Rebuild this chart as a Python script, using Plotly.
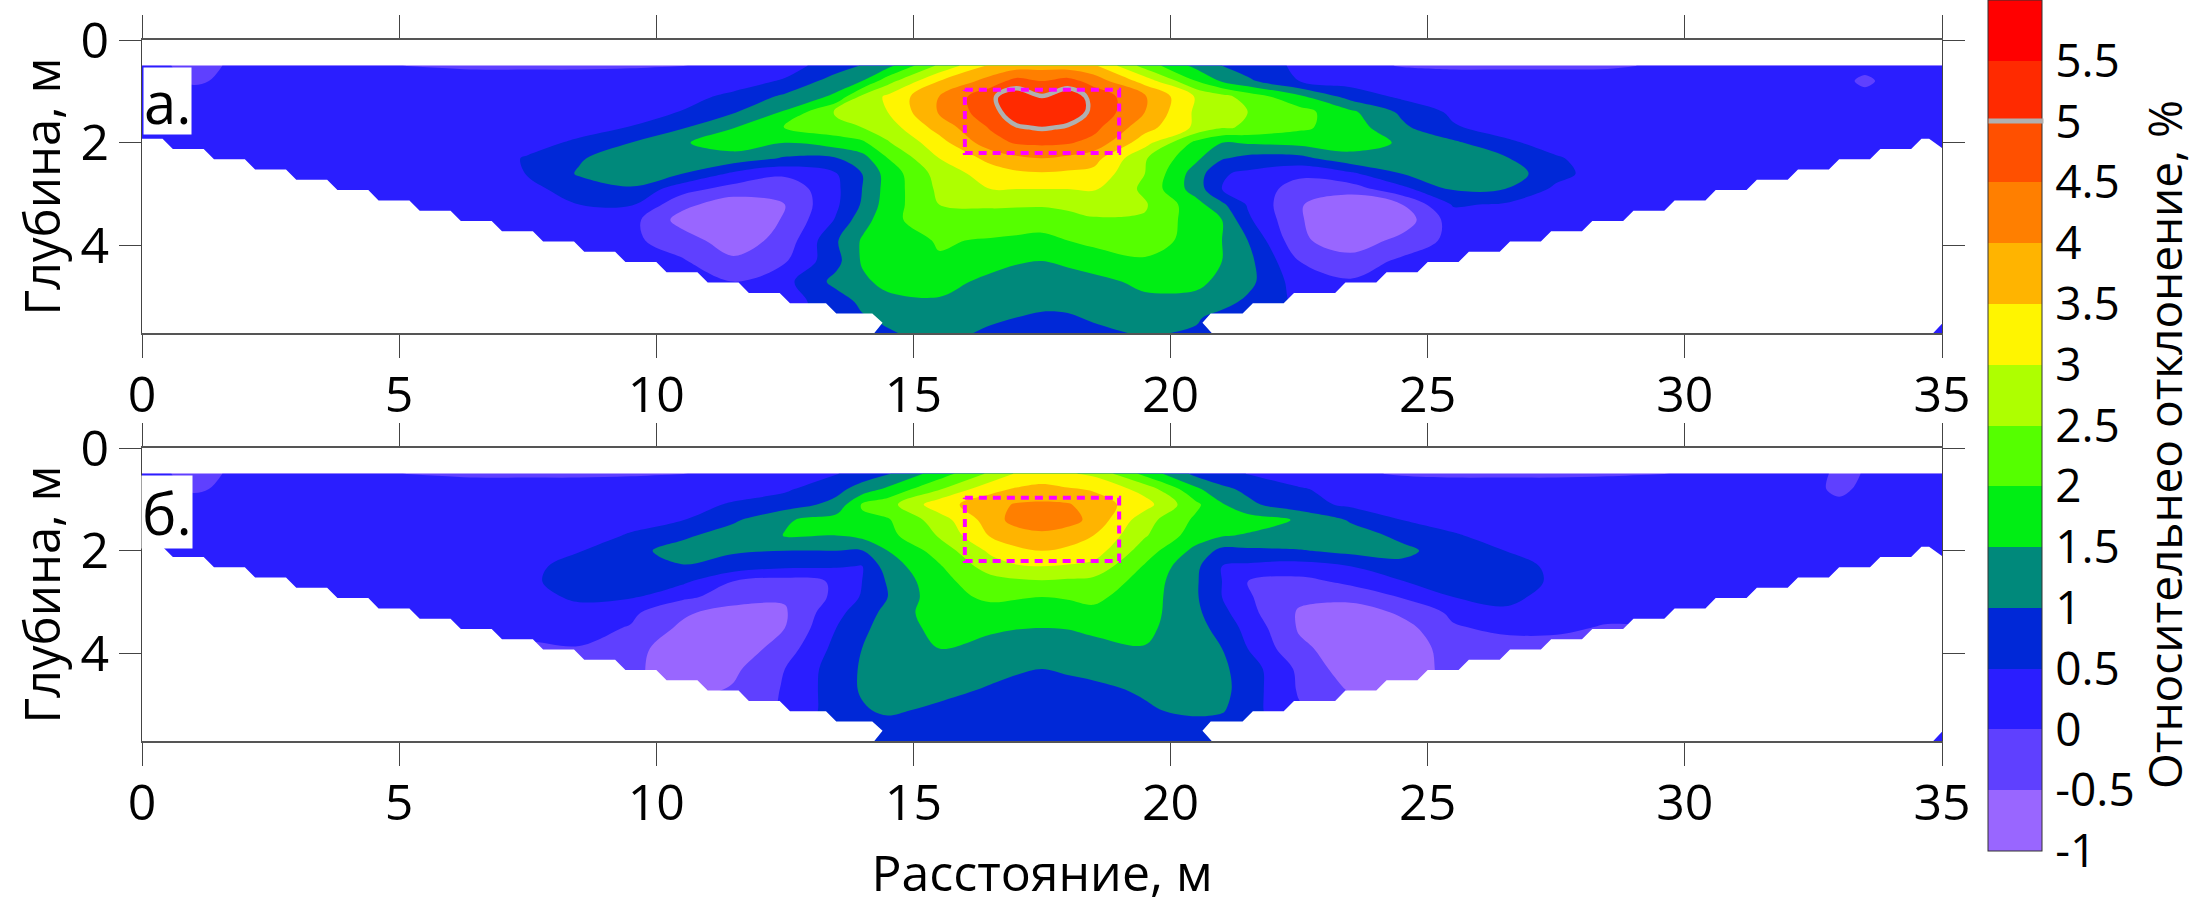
import plotly.graph_objects as go

N = None
W, H = 2194, 914
FONT = "Open Sans"

# distance along the profile, m (columns) and depth, m (rows)
distance = [0, 1, 2.5, 4.5, 6.5, 7.5, 8.5, 9.5, 10.5, 11.5, 12.5, 13.5, 14, 14.5, 15.5, 16.5, 17, 17.5, 18, 18.5,
            19.5, 20.5, 21, 21.5, 22.5, 23.5, 24.5, 25.5, 26.5, 27.5, 28.5, 30.5, 32.5, 33, 33.5, 34, 35]
depth = [0.5, 0.8, 1.1, 1.4, 1.7, 2.0, 2.3, 2.6, 2.9, 3.2, 3.5, 3.9, 4.3, 4.7, 5.1, 5.4, 5.7]

# relative deviation, %, panel a
dev_a = [
    [.2, -.15, .25, .02, -.05, -.05, -.05, -.04, -.02, .15, .3, .75, 1.03, 1.35, 2.6, 3.6, 3.75, 3.8, 3.75, 3.6, 2.3, 1.35, 1.0, .75, .42, .1, -.02, -.05, -.05, -.05, -.04, .1, .15, .15, .15, .2, .2],
    [.2, -.05, .2, .15, .15, .15, .15, .2, .25, .3, .55, 1.25, 1.5, 2.3, 3.5, 4.2, 4.7, 4.5, 4.7, 4.3, 3.3, 2.0, 1.45, 1.1, .5, .3, .2, .15, .15, .15, .15, .15, .15, .15, -.1, .15, .2],
    [.2, .15, .2, .2, .2, .2, .2, .25, .35, .6, 1.1, 1.6, 2.6, 3.1, 4.0, 4.9, 5.35, 5.02, 5.35, 4.85, 4.05, 2.95, 2.65, 2.3, 1.6, .8, .4, .2, .2, .2, .2, .2, .2, .2, .15, .2, .2],
    [.2, .2, .2, .2, .2, .2, .2, .25, .52, .95, 1.55, 2.6, 2.8, 3.0, 4.05, 4.8, 5.3, 5.4, 5.3, 4.9, 4.0, 2.9, 2.6, 2.5, 2.2, 1.6, .9, .4, .2, .15, .2, .2, .2, .2, .2, .2, .2],
    [.2, .2, .2, .2, .2, .2, .3, .52, .95, 1.48, 2.05, 2.3, 2.5, 2.75, 3.7, 4.55, 4.95, 5.05, 4.95, 4.65, 3.7, 2.9, 2.55, 2.45, 2.1, 1.75, 1.1, .55, .3, .2, .2, .2, .2, .2, .2, .2, .2],
    [.2, .2, .2, .2, .2, .3, .6, 1.0, 1.45, 1.75, 1.5, 1.75, 1.9, 2.45, 3.3, 4.3, 4.55, 4.6, 4.55, 4.35, 3.2, 1.85, 1.5, 1.55, 1.65, 1.7, 1.45, 1.1, .6, .3, .2, .2, .2, .2, .2, .2, .2],
    [N, .2, .2, .2, .2, .55, .95, 1.3, 1.45, 1.3, .95, .98, 1.3, 2.0, 3.0, 3.65, 3.9, 4.0, 3.9, 3.7, 2.55, 1.6, 1.05, .85, .85, 1.35, 1.4, 1.4, 1.05, .55, .25, .2, .2, .2, .2, .2, .2],
    [N, N, .2, .2, .25, .52, 1.05, 1.25, 1.0, .4, .1, .48, 1.0, 1.7, 2.7, 3.25, 3.4, 3.45, 3.4, 3.35, 2.5, 1.25, .55, .4, .1, .4, 1.0, 1.4, 1.3, .65, .25, .2, .2, N, N, N, .2],
    [N, N, N, .2, .25, .35, .75, .95, .2, -.2, -.35, .4, 1.0, 1.7, 2.6, 3.0, 3.0, 3.0, 3.0, 3.05, 2.4, 1.25, .5, .3, -.2, -.25, .35, 1.05, 1.0, .4, .2, .2, N, N, N, N, .2],
    [N, N, N, .2, .2, .25, .5, .55, -.35, -.8, -.5, .42, 1.05, 1.75, 2.5, 2.55, 2.55, 2.55, 2.6, 2.7, 2.55, 1.7, 1.1, .45, -.45, -.95, -.5, .55, .45, .25, .2, .2, N, N, N, N, .2],
    [N, N, N, N, .2, .2, .25, .18, -.7, -.95, -.45, .55, 1.3, 1.8, 2.45, 2.35, 2.3, 2.25, 2.35, 2.45, 2.45, 1.75, 1.5, .6, -.45, -.95, -.8, .25, .3, .2, .2, N, N, N, N, N, .2],
    [N, N, N, N, N, .2, .2, .1, -.25, -.8, -.3, .95, 1.55, 1.7, 2.05, 1.95, 1.9, 1.85, 2.0, 2.15, 2.2, 1.85, 1.5, 1.0, -.4, -.8, -.35, .15, .2, .2, N, N, N, N, N, N, .2],
    [N, N, N, N, N, N, .2, .2, .05, -.4, -.05, .85, 1.55, 1.75, 1.95, 1.65, 1.55, 1.5, 1.6, 1.7, 1.95, 1.85, 1.5, 1.15, 0, -.3, .1, .2, .2, N, N, N, N, N, N, N, .2],
    [N, N, N, N, N, N, N, N, .2, 0, .35, 1.15, 1.4, 1.65, 1.65, 1.4, 1.28, 1.25, 1.28, 1.38, 1.6, 1.65, 1.35, 1.15, .25, .05, .2, N, N, N, N, N, N, N, N, N, .2],
    [N, N, N, N, N, N, N, N, N, N, .3, .75, 1.1, 1.35, 1.45, 1.25, 1.15, 1.08, 1.12, 1.2, 1.4, 1.3, 1.15, .9, .4, N, N, N, N, N, N, N, N, N, N, N, .2],
    [N, N, N, N, N, N, N, N, N, N, N, .6, .95, 1.1, 1.25, 1.1, 1.0, .95, .95, 1.05, 1.2, 1.05, .85, .7, N, N, N, N, N, N, N, N, N, N, N, N, .2],
    [N, N, N, N, N, N, N, N, N, N, N, N, N, .95, 1.2, .9, .8, .75, .8, .9, 1.05, .95, .8, .7, N, N, N, N, N, N, N, N, N, N, N, N, .2],
]

# relative deviation, %, panel b
dev_b = [
    [.2, -.15, .25, .02, -.05, -.05, -.05, -.04, -.02, .15, .3, .47, .75, .95, 1.75, 2.6, 3.05, 3.3, 3.05, 2.9, 1.85, .85, .7, .48, .2, .05, -.03, -.05, -.05, -.05, -.03, .02, .15, -.1, .02, .15, .1],
    [.2, -.05, .2, .15, .15, .15, .15, .2, .25, .3, .42, .85, 1.2, 1.6, 2.45, 3.35, 3.55, 3.6, 3.55, 3.45, 2.8, 1.6, 1.1, .9, .55, .3, .2, .15, .15, .15, .15, .15, .15, -.15, .15, .15, .1],
    [.2, .15, .2, .2, .2, .2, .2, .25, .32, .55, .75, 1.15, 2.05, 2.3, 3.3, 3.8, 4.05, 4.1, 4.05, 3.75, 3.2, 2.1, 1.55, 1.1, .7, .4, .25, .2, .2, .2, .2, .2, .2, .15, .2, .2, .2],
    [.2, .2, .2, .2, .2, .2, .2, .3, .48, .92, 1.45, 1.7, 1.9, 1.95, 2.75, 3.75, 4.2, 4.4, 4.2, 3.85, 2.7, 1.9, 1.8, 1.75, 1.45, .95, .5, .3, .2, .2, .2, .2, .2, .2, .2, .2, .2],
    [.2, .2, .2, .2, .2, .2, .25, .55, .9, 1.25, 1.52, 1.5, 1.65, 1.85, 2.55, 3.55, 3.75, 3.85, 3.75, 3.5, 2.55, 1.75, 1.55, 1.45, 1.5, 1.2, .9, .55, .3, .2, .2, .2, .2, .2, .2, .2, .2],
    [.2, .2, .2, .2, .2, .25, .48, .85, 1.2, 1.05, 1.0, 1.0, .98, 1.5, 2.2, 3.1, 3.4, 3.5, 3.4, 3.25, 2.25, 1.35, .85, .9, .95, 1.15, 1.1, .8, .5, .3, .2, .2, .2, .2, .2, .2, .2],
    [N, .2, .2, .2, .2, .4, .65, .98, .97, .8, .6, .55, .48, 1.25, 1.95, 2.75, 2.95, 3.0, 2.95, 2.85, 1.95, 1.1, .5, .4, .3, .5, .9, .95, .7, .4, .25, .2, .2, .2, .2, .2, .2],
    [N, N, .2, .2, .2, .42, .7, .8, .6, -.02, -.2, .05, .5, 1.05, 1.85, 2.3, 2.4, 2.45, 2.4, 2.35, 1.8, 1.05, .5, 0, -.15, .1, .48, .7, .8, .4, .25, .2, .2, N, N, N, .2],
    [N, N, N, .2, .2, .3, .6, .55, .1, -.2, -.45, .1, .55, 1.0, 1.8, 2.1, 2.05, 2.0, 2.05, 2.1, 1.75, 1.05, .5, .05, -.4, -.3, .03, .5, .65, .3, .2, .2, N, N, N, N, .2],
    [N, N, N, .2, .1, .2, .3, .1, -.4, -.75, -.55, .35, .75, 1.15, 1.8, 1.8, 1.75, 1.7, 1.75, 1.9, 1.7, 1.1, .65, .15, -.55, -.85, -.4, .1, .4, .2, .15, .2, N, N, N, N, .2],
    [N, N, N, N, .05, .1, .15, -.03, -.6, -.9, -.5, .5, .9, 1.2, 1.65, 1.58, 1.52, 1.5, 1.52, 1.6, 1.6, 1.2, .8, .35, -.55, -.85, -.7, -.05, .1, .1, -.05, N, N, N, N, N, .2],
    [N, N, N, N, N, -.05, -.02, -.35, -.75, -.85, -.25, .65, 1.0, 1.25, 1.5, 1.33, 1.26, 1.2, 1.26, 1.35, 1.48, 1.2, 1.0, .5, -.4, -.75, -.85, -.25, -.2, -.2, N, N, N, N, N, N, .2],
    [N, N, N, N, N, N, -.2, -.4, -.75, -.6, 0, .75, 1.05, 1.2, 1.3, 1.15, 1.05, 1.0, 1.05, 1.1, 1.2, 1.25, 1.1, .75, -.1, -.8, -.85, -.3, -.3, N, N, N, N, N, N, N, .2],
    [N, N, N, N, N, N, N, N, -.7, -.45, .05, .75, 1.05, 1.15, 1.15, .95, .88, .85, .88, .92, 1.05, 1.3, 1.15, .75, -.05, -.55, -.7, N, N, N, N, N, N, N, N, N, .2],
    [N, N, N, N, N, N, N, N, N, N, .05, .75, .95, 1.08, .9, .8, .75, .7, .75, .8, .95, 1.1, 1.05, .7, .05, N, N, N, N, N, N, N, N, N, N, N, .2],
    [N, N, N, N, N, N, N, N, N, N, N, .7, .8, .85, .8, .75, .7, .65, .7, .72, .8, .85, .8, .65, N, N, N, N, N, N, N, N, N, N, N, N, .2],
    [N, N, N, N, N, N, N, N, N, N, N, N, N, .75, .75, .7, .65, .6, .65, .68, .7, .7, .65, .6, N, N, N, N, N, N, N, N, N, N, N, N, .2],
]

# lower limit of the survey: depth of each step, where it starts on the left and on the right
step_depth = [1.92, 2.12, 2.32, 2.52, 2.72, 2.92, 3.12, 3.32, 3.52, 3.72, 3.92, 4.12, 4.32, 4.52, 4.72, 4.92, 5.12, 5.32]
step_left = [.4, 1.2, 2.0, 2.8, 3.6, 4.4, 5.2, 6.0, 6.8, 7.6, 8.4, 9.2, 10.0, 10.8, 11.6, 12.4, 13.3, 14.2]
step_right = [34.6, 33.8, 33.0, 32.2, 31.4, 30.6, 29.8, 29.0, 28.2, 27.4, 26.6, 25.8, 25.0, 24.2, 23.4, 22.4, 21.6, 20.8]

# anomaly outline
box_x = [16, 19, 19, 16, 16]
box_y = [.97, .97, 2.2, 2.2, .97]

# colour classes, lowest first
levels = [-1, -.5, 0, .5, 1, 1.5, 2, 2.5, 3, 3.5, 4, 4.5, 5, 5.5]
level_labels = ["-1", "-0.5", "0", "0.5", "1", "1.5", "2", "2.5", "3", "3.5", "4", "4.5", "5", "5.5"]
colors = ["#9966FF", "#5F40FF", "#2A1EFF", "#0028D7", "#00897B", "#00EE14", "#55FF00",
          "#AEFF00", "#FFF500", "#FFB400", "#FF7F00", "#FF5000", "#FF2A00", "#FF0000"]

colorscale = []
for i, c in enumerate(colors):
    colorscale.append([i / len(colors), c])
    colorscale.append([(i + 1) / len(colors), c])

# white polygons below the survey limit
left_x, left_y = [-.1], [step_depth[0]]
for x, y in zip(step_left[:-1], step_depth[:-1]):
    left_x += [x, x + .2]
    left_y += [y, y + .2]
left_x += [14.2, 14.4, 14.24, 14.24, -.1, -.1]
left_y += [5.32, 5.5, 5.7, 5.8, 5.8, step_depth[0]]

right_x, right_y = [20.8, 20.62, 20.78], [5.7, 5.5, 5.32]
for i in range(len(step_depth) - 1, 0, -1):
    right_x += [step_right[i - 1] - .2, step_right[i - 1]]
    right_y += [step_depth[i], step_depth[i - 1]]
right_x += [34.75, 35, 35, 34.83, 34.83, 20.8, 20.8]
right_y += [1.92, 2.1, 5.52, 5.7, 5.8, 5.8, 5.7]

fig = go.Figure()

panels = [("x", "y", dev_a), ("x2", "y2", dev_b)]
for n, (xa, ya, dev) in enumerate(panels):
    fig.add_trace(go.Contour(
        x=distance, y=depth, z=dev, xaxis=xa, yaxis=ya, connectgaps=True,
        zmin=-1, zmax=6, colorscale=colorscale, hoverinfo="skip",
        contours=dict(start=-1, end=6, size=.5, coloring="fill", showlines=False),
        line=dict(width=0, smoothing=1),
        showscale=n == 0,
        colorbar=dict(
            x=1988 / W, xanchor="left", xpad=0, y=1, yanchor="top", ypad=0,
            len=851, lenmode="pixels", thickness=54, thicknessmode="pixels",
            outlinecolor="#333333", outlinewidth=1,
            tickvals=levels, ticktext=level_labels, ticks="outside", ticklen=4,
            tickcolor="rgba(0,0,0,0)", tickfont=dict(family=FONT, size=46, color="black"),
        ),
    ))
    for px_, py_ in [(left_x, left_y), (right_x, right_y)]:
        fig.add_trace(go.Scatter(x=px_, y=py_, xaxis=xa, yaxis=ya, mode="lines", fill="toself",
                                 fillcolor="white", line=dict(width=0, color="white"),
                                 hoverinfo="skip", showlegend=False))

# 5 % isoline only on the upper panel
fig.add_trace(go.Contour(
    x=distance, y=depth, z=dev_a, connectgaps=True, showscale=False, hoverinfo="skip",
    contours=dict(start=5, end=5, size=1, coloring="none"),
    line=dict(color="#B0B0B0", width=4.5, smoothing=1),
))

for xa, ya in [("x", "y"), ("x2", "y2")]:
    fig.add_trace(go.Scatter(x=box_x, y=box_y, xaxis=xa, yaxis=ya, mode="lines", hoverinfo="skip",
                             line=dict(color="#FF00FF", width=4, dash="8px,6px"), showlegend=False))

xstyle = dict(range=[0, 35], tickvals=[0, 5, 10, 15, 20, 25, 30, 35], showgrid=False, zeroline=False,
              showline=True, linecolor="#555555", linewidth=2, mirror="ticks",
              ticks="outside", ticklen=23, tickwidth=1, tickcolor="#444444",
              ticklabelstandoff=-6, tickfont=dict(family=FONT, size=50, color="black"))
ystyle = dict(range=[5.7, 0], tickvals=[0, 2, 4], showgrid=False, zeroline=False,
              showline=True, linecolor="#444444", linewidth=1, mirror="ticks",
              ticks="outside", ticklen=22, tickwidth=1, tickcolor="#444444",
              tickfont=dict(family=FONT, size=50, color="black"),
              title=dict(text="Глубина, м", standoff=4, font=dict(family=FONT, size=49, color="black")))
xdomain = [142 / W, 1942 / W]

fig.update_layout(
    width=W, height=H, autosize=False, showlegend=False,
    paper_bgcolor="white", plot_bgcolor="white",
    margin=dict(l=0, r=0, t=0, b=0, autoexpand=False),
    xaxis=dict(domain=xdomain, anchor="y", **xstyle),
    yaxis=dict(domain=[1 - 333 / H, 1 - 40 / H], anchor="x", **ystyle),
    xaxis2=dict(domain=xdomain, anchor="y2",
                title=dict(text="Расстояние, м", standoff=22, font=dict(family=FONT, size=50, color="black")),
                **xstyle),
    yaxis2=dict(domain=[1 - 741 / H, 1 - 448 / H], anchor="x2", **ystyle),
    annotations=[
        dict(text="а.", xref="x", yref="y", x=.97, y=.525, xanchor="right", yanchor="top",
             width=47, height=66, align="left", bgcolor="white", borderpad=0, showarrow=False,
             font=dict(family=FONT, size=58, color="black")),
        dict(text="б.", xref="x2", yref="y2", x=1.0, y=.52, xanchor="right", yanchor="top",
             width=50, height=72, align="left", bgcolor="white", borderpad=0, showarrow=False,
             font=dict(family=FONT, size=58, color="black")),
        # 5 % mark on the colour bar
        dict(text=" ", xref="paper", yref="paper", x=1988 / W, y=1 - 121 / H, xanchor="left", yanchor="middle",
             width=54, height=4, bgcolor="#B0B0B0", borderpad=0, showarrow=False, font=dict(size=1)),
        # colour bar title
        dict(text="Относительнео отклонение, %", xref="paper", yref="paper", x=2164 / W, y=1 - 445 / H,
             xanchor="center", yanchor="middle", textangle=-90, showarrow=False,
             font=dict(family=FONT, size=46, color="black")),
    ],
)

fig.write_html("out.html", config={"displayModeBar": False}, post_script="document.body.style.margin='0';")
